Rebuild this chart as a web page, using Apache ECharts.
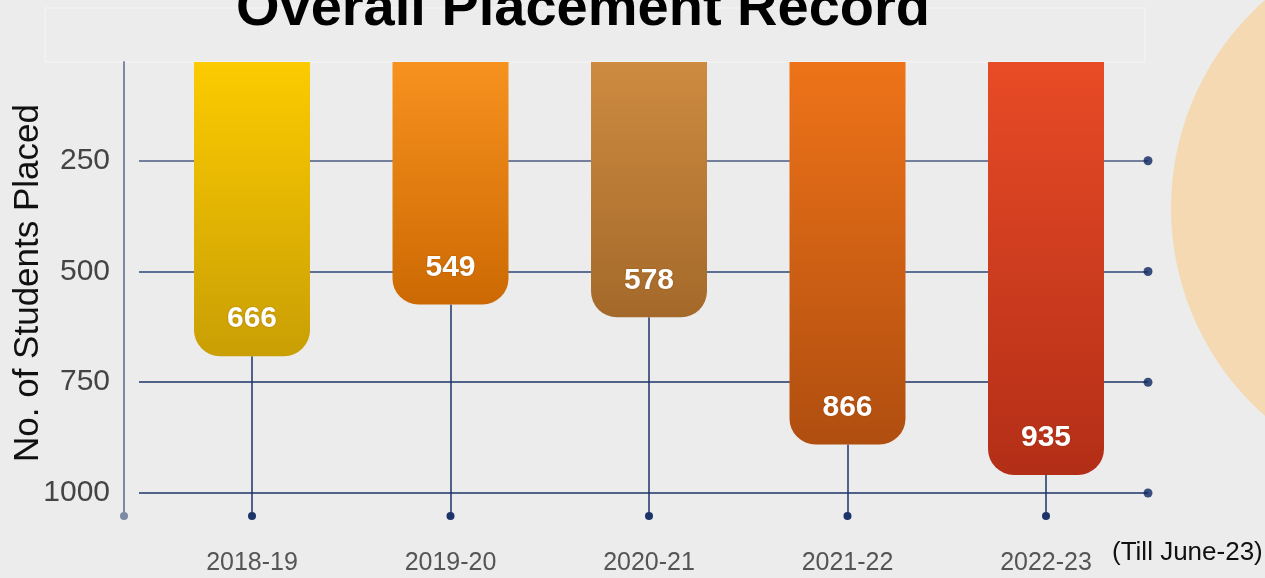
<!DOCTYPE html>
<html>
<head>
<meta charset="utf-8">
<script src="https://cdn.jsdelivr.net/npm/echarts@6/dist/echarts.min.js"></script>
<style>
  html, body { margin: 0; padding: 0; background: #ececec; }
  #chart { width: 1265px; height: 578px; }
</style>
</head>
<body>
<div id="chart"></div>
<script>
const years = ['2018-19', '2019-20', '2020-21', '2021-22', '2022-23']
const placed = [666, 549, 578, 866, 935]
const tickValues = [250, 500, 750, 1000]

// top / bottom colour of each bar
const barColors = [
    ['#fccb00', '#c99f05'],
    ['#f7921f', '#cc6902'],
    ['#cd8b40', '#a4692a'],
    ['#ee7318', '#b04e10'],
    ['#e84b26', '#b32e17']
]
const gridLineColors = ['#74809b', '#2d4677', '#1c3467', '#1c3467']

const chart = echarts.init(document.getElementById('chart'), null, { renderer: 'canvas' })

const barData = placed.map((v, i) => ({
    value: v,
    itemStyle: {
        color: new echarts.graphic.LinearGradient(0, 0, 0, 1, [
            { offset: 0, color: barColors[i][0] },
            { offset: 1, color: barColors[i][1] }
        ])
    }
}))

// stems from the bottom of each bar down to a dot
const stems = years.map((y, i) => [
    { coord: [y, placed[i]] },
    { coord: [y, 1028] }
])

chart.setOption({
    backgroundColor: '#ececec',
    animation: false,
    title: {
        text: 'Overall Placement Record',
        left: 578,
        top: -23,
        textAlign: 'center',
        textStyle: {
            fontFamily: 'Liberation Sans',
            fontSize: 56,
            fontWeight: 'bold',
            color: '#000'
        }
    },
    graphic: [
        {
            type: 'circle',
            shape: { cx: 1448, cy: 208, r: 277 },
            style: { fill: '#f4d9b2' },
            z: -1
        },
        {
            type: 'rect',
            shape: { x: 45, y: 8, width: 1100, height: 54 },
            style: { fill: 'none', stroke: 'rgba(255,255,255,0.5)', lineWidth: 1 },
            z: -1
        },
        {
            type: 'text',
            left: 1112,
            top: 540,
            style: {
                text: '(Till June-23)',
                font: '26px "Liberation Sans"',
                fill: '#111'
            }
        }
    ],
    grid: [
        { left: 152.75, right: 119.75, top: 62, bottom: 62, outerBoundsMode: 'none' },
        { left: 139, right: 117, top: 50, bottom: 62, outerBoundsMode: 'none' }
    ],
    xAxis: [
        {
            type: 'category',
            gridIndex: 0,
            data: years,
            axisLine: { show: false },
            axisTick: { show: false },
            axisLabel: {
                margin: 35,
                fontFamily: 'Liberation Sans',
                fontSize: 25,
                color: '#555'
            }
        },
        {
            type: 'value',
            gridIndex: 1,
            min: 0,
            max: 1,
            show: false
        }
    ],
    yAxis: [
        {
            type: 'value',
            gridIndex: 0,
            inverse: true,
            min: 0,
            max: 1028,
            offset: 28.75,
            axisLine: {
                show: true,
                symbol: ['circle', 'none'],
                symbolSize: [8, 8],
                lineStyle: { color: '#7d8aa5', width: 2 }
            },
            axisTick: { show: false },
            axisLabel: { show: false },
            splitLine: { show: false }
        },
        {
            type: 'value',
            gridIndex: 1,
            inverse: true,
            min: 0,
            max: 1052,
            interval: 250,
            offset: 15,
            name: 'No. of Students Placed',
            nameLocation: 'middle',
            nameRotate: 90,
            nameGap: 78,
            nameMoveOverlap: false,
            nameTextStyle: {
                fontFamily: 'Liberation Sans',
                fontSize: 35,
                color: '#111'
            },
            axisLine: { show: false },
            axisTick: { show: false },
            splitLine: { show: false },
            axisLabel: {
                margin: 14,
                fontFamily: 'Liberation Sans',
                fontSize: 30,
                color: '#444',
                formatter: v => tickValues.includes(v) ? String(v) : ''
            }
        }
    ],
    series: [
        {
            type: 'scatter',
            xAxisIndex: 1,
            yAxisIndex: 1,
            z: 4,
            silent: true,
            symbolSize: 9,
            itemStyle: { color: '#0b2560' },
            data: tickValues.map(v => [1, v]),
            markLine: {
                silent: true,
                z: 1,
                symbol: ['none', 'none'],
                label: { show: false },
                data: tickValues.map((v, i) => ({
                    yAxis: v,
                    lineStyle: { color: gridLineColors[i], width: i === 0 ? 2 : 1.6, type: 'solid' }
                }))
            }
        },
        {
            type: 'bar',
            xAxisIndex: 0,
            yAxisIndex: 0,
            z: 3,
            barWidth: 116,
            data: barData,
            itemStyle: {
                borderRadius: [0, 0, 26, 26]
            },
            label: {
                show: true,
                position: 'insideBottom',
                distance: 22,
                fontFamily: 'Liberation Sans',
                fontSize: 30,
                fontWeight: 'bold',
                color: '#fff',
                textShadowColor: 'rgba(110,50,0,0.45)',
                textShadowBlur: 2
            },
            markLine: {
                silent: true,
                z: 1,
                symbol: ['none', 'circle'],
                symbolSize: 8,
                label: { show: false },
                lineStyle: { color: '#1c3467', width: 1.5, type: 'solid' },
                itemStyle: { color: '#0b2560' },
                data: stems
            }
        }
    ]
})
</script>
</body>
</html>
